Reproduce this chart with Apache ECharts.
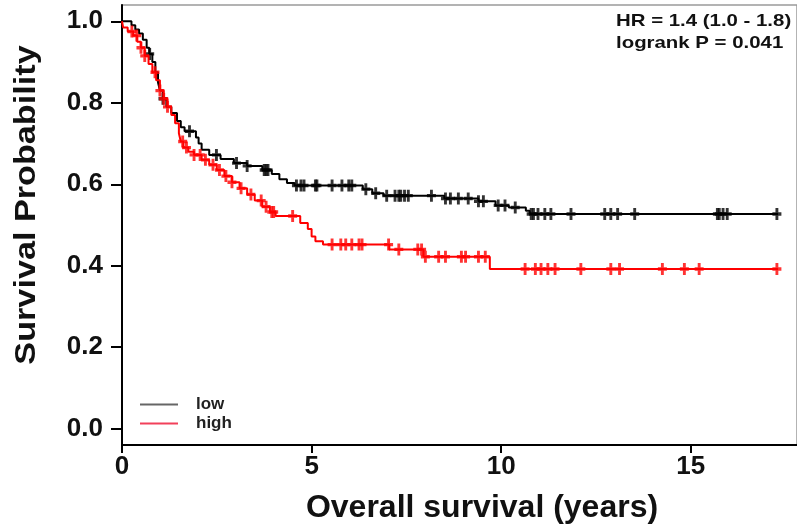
<!DOCTYPE html>
<html>
<head>
<meta charset="utf-8">
<script src="https://cdn.jsdelivr.net/npm/echarts@6/dist/echarts.min.js"></script>
<style>html,body{margin:0;padding:0;background:#fff;}#c{width:797px;height:531px;}</style>
</head>
<body>
<div id="c"></div>
<script>
// ---- data ----
const xTicks = [0, 5, 10, 15];
const yTicks = [0, 0.2, 0.4, 0.6, 0.8, 1.0];

// low group: Kaplan-Meier steps (time in years, survival after the step)
const lowTimes = [0, 0.25, 0.35, 0.45, 0.55, 0.65, 0.72, 0.8, 0.88, 0.95, 1.0, 1.08, 1.17, 1.3, 1.45, 1.55, 1.65, 1.95, 2.02, 2.1, 2.3, 2.6, 2.95, 3.3, 3.7, 3.95, 4.15, 4.35, 4.55, 6.35, 6.6, 6.9, 8.5, 9.4, 9.85, 10.2, 10.65, 10.75, 17.3];
const lowSurv  = [1.0, 0.99, 0.98, 0.97, 0.955, 0.935, 0.92, 0.9, 0.875, 0.85, 0.83, 0.81, 0.79, 0.775, 0.755, 0.74, 0.73, 0.715, 0.70, 0.685, 0.672, 0.662, 0.652, 0.645, 0.635, 0.625, 0.612, 0.603, 0.597, 0.588, 0.578, 0.572, 0.565, 0.558, 0.548, 0.543, 0.535, 0.527, 0.527];
const lowCensor = [0.73, 1.08, 1.78, 2.49, 3.02, 3.3, 3.75, 3.8, 3.85, 4.6, 4.72, 4.8, 5.1, 5.14, 5.54, 5.8, 5.98, 6.06, 6.43, 6.69, 6.98, 7.2, 7.3, 7.35, 7.45, 7.55, 8.16, 8.53, 8.66, 8.87, 9.13, 9.4, 9.53, 9.92, 10.1, 10.37, 10.79, 10.85, 10.97, 11.15, 11.31, 11.84, 12.73, 12.89, 13.07, 13.52, 15.7, 15.75, 15.85, 15.96, 17.27];

// high group
const highTimes = [0, 0.03, 0.15, 0.3, 0.4, 0.5, 0.6, 0.7, 0.8, 0.9, 1.0, 1.1, 1.2, 1.3, 1.4, 1.5, 1.55, 1.62, 1.75, 1.9, 2.1, 2.3, 2.5, 2.7, 2.9, 3.1, 3.3, 3.5, 3.7, 3.9, 4.05, 4.7, 4.9, 5.0, 5.1, 5.3, 7.05, 7.95, 9.7, 17.3];
const highSurv  = [1.0, 0.985, 0.975, 0.965, 0.95, 0.935, 0.915, 0.895, 0.875, 0.855, 0.83, 0.81, 0.79, 0.77, 0.75, 0.725, 0.705, 0.69, 0.68, 0.672, 0.66, 0.648, 0.635, 0.62, 0.605, 0.59, 0.575, 0.56, 0.545, 0.532, 0.522, 0.505, 0.49, 0.472, 0.46, 0.452, 0.44, 0.422, 0.392, 0.392];
const highCensor = [0.26, 0.39, 0.5, 0.6, 0.87, 1.0, 1.1, 1.2, 1.6, 1.7, 1.9, 2.06, 2.2, 2.4, 2.57, 2.74, 2.9, 3.14, 3.4, 3.67, 3.8, 3.95, 4.0, 4.5, 5.54, 5.77, 5.9, 6.06, 6.25, 6.33, 7.03, 7.3, 7.8, 7.9, 8.0, 8.35, 8.53, 8.95, 9.06, 9.4, 9.58, 10.63, 10.9, 11.05, 11.23, 11.42, 12.1, 12.89, 13.12, 14.25, 14.83, 15.22, 17.27];

const seriesNames = ['low', 'high'];
const annotation = ['HR = 1.4 (1.0 - 1.8)', 'logrank P = 0.041'];
const xTitle = 'Overall survival (years)';
const yTitle = 'Survival Probability';

// ---- helpers ----
function pairs(t, s) { return t.map((v, i) => [v, s[i]]); }
function survAt(t, s, x) { let v = s[0]; for (let i = 0; i < t.length; i++) { if (t[i] <= x) v = s[i]; } return v; }
function censorPts(ct, t, s) { return ct.map(x => [x, survAt(t, s, x)]); }

const plus = 'path://M3.4,0H6.6V3.6H10V6.4H6.6V10H3.4V6.4H0V3.6H3.4Z';
const FONT = 'Liberation Sans, Arial, sans-serif';

const chart = echarts.init(document.getElementById('c'), null, { renderer: 'canvas' });
chart.setOption({
  animation: false,
  backgroundColor: '#fff',
  grid: { left: 122, right: -4, top: 5, bottom: 86, show: true, borderColor: '#9a9a9a', borderWidth: 1.5, containLabel: false },
  xAxis: {
    type: 'value', min: 0, max: 17.8,
    axisLine: { show: true, onZero: false, lineStyle: { color: '#000', width: 2 } },
    axisTick: { show: true, length: 8, customValues: xTicks, lineStyle: { color: '#000', width: 2 } },
    axisLabel: { customValues: xTicks, margin: 9, fontSize: 26, fontWeight: 'bold', color: '#111', fontFamily: FONT },
    splitLine: { show: false }
  },
  yAxis: {
    type: 'value', min: -0.04, max: 1.04,
    axisLine: { show: true, onZero: false, lineStyle: { color: '#000', width: 2 } },
    axisTick: { show: true, length: 11, customValues: yTicks, lineStyle: { color: '#000', width: 2 } },
    axisLabel: { customValues: yTicks, margin: 19, fontSize: 26, fontWeight: 'bold', color: '#111', fontFamily: FONT, formatter: v => v.toFixed(1) },
    splitLine: { show: false }
  },
  legend: {
    orient: 'vertical', left: 135, top: 391, itemWidth: 38, itemHeight: 2, itemGap: 2,
    icon: 'rect',
    textStyle: { fontSize: 17, fontWeight: 'bold', color: '#222', fontFamily: FONT, padding: [0, 0, 0, 13] },
    data: [
      { name: seriesNames[0], itemStyle: { color: '#666' } },
      { name: seriesNames[1], itemStyle: { color: '#f2405a' } }
    ]
  },
  graphic: [
    { type: 'text', x: 616, y: 21, scaleX: 1.2, style: { text: annotation[0], font: 'bold 17px ' + FONT, fill: '#111', verticalAlign: 'middle' } },
    { type: 'text', x: 616, y: 43, scaleX: 1.2, style: { text: annotation[1], font: 'bold 17px ' + FONT, fill: '#111', verticalAlign: 'middle' } },
    { type: 'text', x: 482, y: 508, style: { text: xTitle, font: 'bold 32px ' + FONT, fill: '#111', align: 'center', verticalAlign: 'middle' } },
    { type: 'text', x: 27, y: 205, rotation: Math.PI / 2, scaleX: 1.14, style: { text: yTitle, font: 'bold 30px ' + FONT, fill: '#111', align: 'center', verticalAlign: 'middle' } }
  ],
  series: [
    { name: seriesNames[0], type: 'line', step: 'end', data: pairs(lowTimes, lowSurv), showSymbol: false, color: '#000', lineStyle: { color: '#000', width: 2 }, z: 3 },
    { name: 'lowCensor', type: 'scatter', data: censorPts(lowCensor, lowTimes, lowSurv), symbol: plus, symbolSize: [9, 12], itemStyle: { color: '#000' }, z: 3 },
    { name: seriesNames[1], type: 'line', step: 'end', data: pairs(highTimes, highSurv), showSymbol: false, color: '#ff0000', lineStyle: { color: '#ff0000', width: 2 }, z: 4 },
    { name: 'highCensor', type: 'scatter', data: censorPts(highCensor, highTimes, highSurv), symbol: plus, symbolSize: [9, 12], itemStyle: { color: '#ff0000' }, z: 4 }
  ]
});
</script>
</body>
</html>
